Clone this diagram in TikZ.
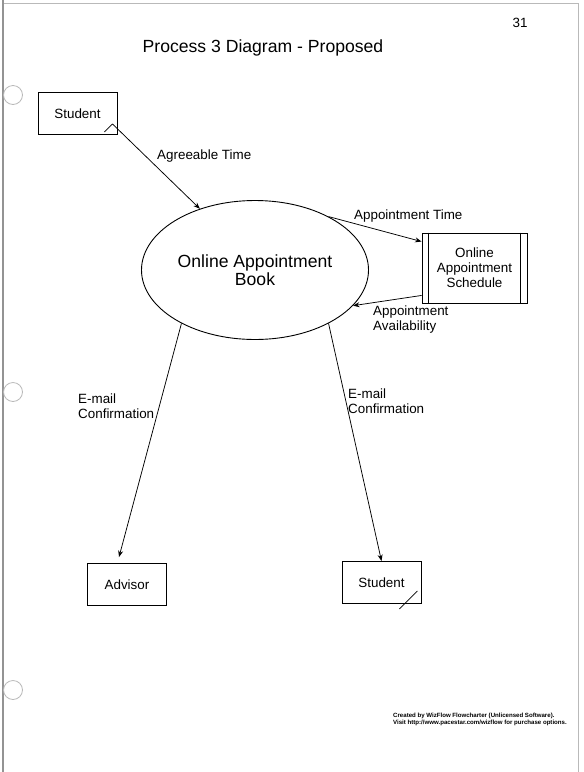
\documentclass[tikz,border=0pt]{standalone}
\usepackage{fontspec}
\setmainfont{Liberation Sans}
\usetikzlibrary{positioning,arrows.meta,shapes.geometric,calc}

\begin{document}
\begin{tikzpicture}[x=1pt,y=-1pt,
    every node/.style={font=\fontsize{13.4}{15}\selectfont, text=black},
    ent/.style={draw, line width=0.9pt, minimum width=79pt, minimum height=42pt, inner sep=0pt},
    lbl/.style={anchor=west, align=left, inner sep=0pt},
    ar/.style={-{Stealth[length=6.5pt,width=5pt]}, line width=0.75pt},
    pg/.style={gray!55, line width=0.8pt}]
  \useasboundingbox (0,0) rectangle (584,772);
  % scanned page edge and punch holes
  \draw[pg] (3,3) -- (578,3) -- (578,772);
  \draw[gray!85, line width=1.2pt] (3,0) -- (3,772);
  \foreach \hy in {95,392,690}
    \draw[pg] (13,\hy) circle (9.5);
  % heading
  \node[anchor=base] (pnum) at (520,27) {31};
  \node[anchor=base, font=\fontsize{17.6}{18.5}\selectfont] (title) at (263,52)
    {Process 3 Diagram - Proposed};
  % entities, process, store
  \node[ent] (student1) at (77.5,113.5) {Student};
  \node[draw, ellipse, line width=0.9pt, minimum width=227pt, minimum height=139pt,
        inner sep=0pt, align=center, font=\fontsize{17.6}{18.5}\selectfont]
    (book) at (255,270) {Online Appointment\\Book};
  \node[draw, line width=0.9pt, minimum width=105pt, minimum height=70pt,
        inner sep=0pt, align=center] (sched) at (474.5,268)
    {Online\\Appointment\\Schedule};
  \draw[line width=0.9pt] ([xshift=6.5pt]sched.north west) -- ([xshift=6.5pt]sched.south west);
  \draw[line width=0.9pt] ([xshift=-7pt]sched.north east) -- ([xshift=-7pt]sched.south east);
  \node[ent] (advisor) at (127,584.5) {Advisor};
  \node[ent] (student2) at (381.5,582.5) {Student};
  % duplicate marks
  \coordinate (s1tip) at ($(student1.south east)+(-5,-11)$);
  \draw[line width=0.75pt] ($(student1.south east)+(-13,-3)$) -- (s1tip);
  \draw[line width=0.75pt] ($(student2.south east)+(-22,5)$) -- ($(student2.south east)+(-4,-13)$);
  % flows
  \draw[ar] (s1tip) -- (book.132);
  \draw[ar] (book.36) -- ($(sched.north west)+(0,9)$);
  \draw[ar] ($(sched.south west)+(0,-8)$) -- (book.-20);
  \draw[ar] (book.216) -- ($(advisor.north)+(-8,-6)$);
  \draw[ar] (book.-36) -- (student2.north);
  % flow labels
  \node[lbl] (agree) at (157,156) {Agreeable Time};
  \node[lbl] (apptime) at (354,216) {Appointment Time};
  \node[lbl] (avail) at (373,320) {Appointment\\Availability};
  \node[lbl] (mailadv) at (78,406) {E-mail\\Confirmation};
  \node[lbl] (mailstu) at (348,401) {E-mail\\Confirmation};
  % footer
  \node[anchor=north west, align=left, inner sep=0pt,
        font=\fontsize{6.1}{7}\selectfont\bfseries] (credit) at (393,713)
    {Created by WizFlow Flowcharter (Unlicensed Software).\\
     Visit http://www.pacestar.com/wizflow for purchase options.};
\end{tikzpicture}
\end{document}
